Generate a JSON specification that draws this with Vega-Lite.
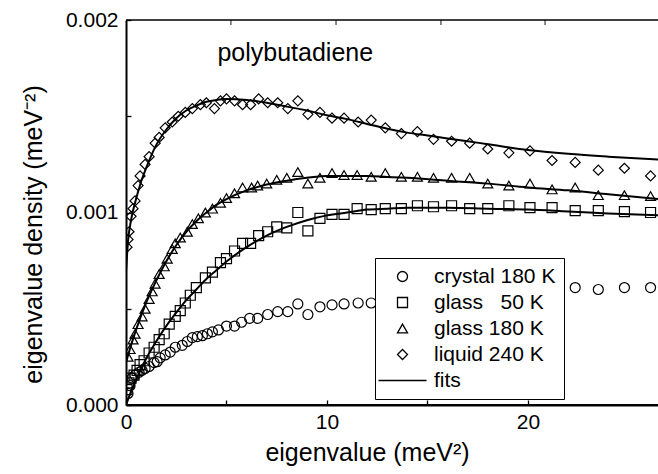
{
  "$schema": "https://vega.github.io/schema/vega-lite/v6.json",
  "width": 534,
  "height": 385,
  "autosize": {"type": "none"},
  "padding": {"left": 126, "top": 20, "right": 0, "bottom": 69},
  "background": "white",
  "config": {
    "view": {"stroke": null},
    "font": "Liberation Sans",
    "axis": {"grid": false, "domain": true, "ticks": true, "domainColor": "black", "tickColor": "black", "labelColor": "black", "titleColor": "black", "labelFont": "Liberation Sans", "titleFont": "Liberation Sans", "titleFontWeight": "normal", "labelFlush": false, "labelOverlap": false}
  },
  "datasets": {
    "fits": [
      {"f": "l", "x": 0, "y": 0.00069}, {"f": "l", "x": 0.1, "y": 0.00085}, {"f": "l", "x": 0.25, "y": 0.00096}, {"f": "l", "x": 0.5, "y": 0.00107}, {"f": "l", "x": 0.75, "y": 0.00116}, {"f": "l", "x": 1, "y": 0.00123}, {"f": "l", "x": 1.5, "y": 0.00135}, {"f": "l", "x": 2, "y": 0.00143}, {"f": "l", "x": 2.5, "y": 0.00149}, {"f": "l", "x": 3, "y": 0.00153}, {"f": "l", "x": 3.5, "y": 0.001555}, {"f": "l", "x": 4, "y": 0.001575}, {"f": "l", "x": 4.5, "y": 0.001585}, {"f": "l", "x": 5, "y": 0.00159}, {"f": "l", "x": 6, "y": 0.001585}, {"f": "l", "x": 7, "y": 0.00157}, {"f": "l", "x": 8, "y": 0.00155}, {"f": "l", "x": 9, "y": 0.00153}, {"f": "l", "x": 10, "y": 0.001505}, {"f": "l", "x": 11, "y": 0.001485}, {"f": "l", "x": 12, "y": 0.00146}, {"f": "l", "x": 13, "y": 0.001435}, {"f": "l", "x": 14, "y": 0.001415}, {"f": "l", "x": 15, "y": 0.0014}, {"f": "l", "x": 16, "y": 0.001385}, {"f": "l", "x": 17, "y": 0.00137}, {"f": "l", "x": 18, "y": 0.001355}, {"f": "l", "x": 20, "y": 0.001325}, {"f": "l", "x": 22, "y": 0.001305}, {"f": "l", "x": 24, "y": 0.00129}, {"f": "l", "x": 26.6, "y": 0.001274},
      {"f": "g180", "x": 0, "y": 0.00022}, {"f": "g180", "x": 0.25, "y": 0.00031}, {"f": "g180", "x": 0.5, "y": 0.00039}, {"f": "g180", "x": 1, "y": 0.00053}, {"f": "g180", "x": 1.5, "y": 0.000645}, {"f": "g180", "x": 2, "y": 0.000745}, {"f": "g180", "x": 2.5, "y": 0.00083}, {"f": "g180", "x": 3, "y": 0.0009}, {"f": "g180", "x": 3.5, "y": 0.000955}, {"f": "g180", "x": 4, "y": 0.001}, {"f": "g180", "x": 4.5, "y": 0.00104}, {"f": "g180", "x": 5, "y": 0.00107}, {"f": "g180", "x": 6, "y": 0.001115}, {"f": "g180", "x": 7, "y": 0.001145}, {"f": "g180", "x": 8, "y": 0.001165}, {"f": "g180", "x": 9, "y": 0.00118}, {"f": "g180", "x": 10, "y": 0.00119}, {"f": "g180", "x": 11, "y": 0.00119}, {"f": "g180", "x": 12, "y": 0.00119}, {"f": "g180", "x": 13, "y": 0.001185}, {"f": "g180", "x": 14, "y": 0.00118}, {"f": "g180", "x": 16, "y": 0.001165}, {"f": "g180", "x": 18, "y": 0.00115}, {"f": "g180", "x": 20, "y": 0.00113}, {"f": "g180", "x": 22, "y": 0.001115}, {"f": "g180", "x": 24, "y": 0.001095}, {"f": "g180", "x": 26.6, "y": 0.001069},
      {"f": "g50", "x": 0, "y": 0.0}, {"f": "g50", "x": 0.25, "y": 0.00007}, {"f": "g50", "x": 0.5, "y": 0.00013}, {"f": "g50", "x": 1, "y": 0.00024}, {"f": "g50", "x": 1.5, "y": 0.00033}, {"f": "g50", "x": 2, "y": 0.00041}, {"f": "g50", "x": 2.5, "y": 0.00048}, {"f": "g50", "x": 3, "y": 0.000545}, {"f": "g50", "x": 3.5, "y": 0.0006}, {"f": "g50", "x": 4, "y": 0.000655}, {"f": "g50", "x": 4.5, "y": 0.0007}, {"f": "g50", "x": 5, "y": 0.000745}, {"f": "g50", "x": 6, "y": 0.00082}, {"f": "g50", "x": 7, "y": 0.00088}, {"f": "g50", "x": 8, "y": 0.000925}, {"f": "g50", "x": 9, "y": 0.00096}, {"f": "g50", "x": 10, "y": 0.000985}, {"f": "g50", "x": 11, "y": 0.001}, {"f": "g50", "x": 12, "y": 0.001015}, {"f": "g50", "x": 13, "y": 0.00102}, {"f": "g50", "x": 14, "y": 0.001025}, {"f": "g50", "x": 16, "y": 0.001025}, {"f": "g50", "x": 18, "y": 0.00102}, {"f": "g50", "x": 20, "y": 0.001015}, {"f": "g50", "x": 22, "y": 0.001005}, {"f": "g50", "x": 24, "y": 0.000995}, {"f": "g50", "x": 26.6, "y": 0.000985}
    ],
    "points": [
      {"s": "l", "x": 0.05, "y": 0.00082}, {"s": "l", "x": 0.1, "y": 0.00086}, {"s": "l", "x": 0.15, "y": 0.0009}, {"s": "l", "x": 0.25, "y": 0.00098}, {"s": "l", "x": 0.35, "y": 0.00102}, {"s": "l", "x": 0.45, "y": 0.00106}, {"s": "l", "x": 0.6, "y": 0.00114}, {"s": "l", "x": 0.7, "y": 0.00119}, {"s": "l", "x": 0.95, "y": 0.00125}, {"s": "l", "x": 1.15, "y": 0.00129}, {"s": "l", "x": 1.45, "y": 0.00136}, {"s": "l", "x": 1.65, "y": 0.00139}, {"s": "l", "x": 1.95, "y": 0.00144}, {"s": "l", "x": 2.3, "y": 0.00147}, {"s": "l", "x": 2.6, "y": 0.0015}, {"s": "l", "x": 2.95, "y": 0.00152}, {"s": "l", "x": 3.3, "y": 0.00154}, {"s": "l", "x": 3.7, "y": 0.00156}, {"s": "l", "x": 4.0, "y": 0.00157}, {"s": "l", "x": 4.4, "y": 0.00154}, {"s": "l", "x": 4.7, "y": 0.00158}, {"s": "l", "x": 5.0, "y": 0.00159}, {"s": "l", "x": 5.4, "y": 0.00158}, {"s": "l", "x": 5.8, "y": 0.00156}, {"s": "l", "x": 6.2, "y": 0.00156}, {"s": "l", "x": 6.6, "y": 0.00159}, {"s": "l", "x": 7.05, "y": 0.00157}, {"s": "l", "x": 7.55, "y": 0.00157}, {"s": "l", "x": 8.05, "y": 0.00154}, {"s": "l", "x": 8.55, "y": 0.00158}, {"s": "l", "x": 9.05, "y": 0.00151}, {"s": "l", "x": 9.65, "y": 0.00152}, {"s": "l", "x": 10.25, "y": 0.00149}, {"s": "l", "x": 10.85, "y": 0.00149}, {"s": "l", "x": 11.55, "y": 0.00147}, {"s": "l", "x": 12.2, "y": 0.00148}, {"s": "l", "x": 12.9, "y": 0.00144}, {"s": "l", "x": 13.7, "y": 0.00141}, {"s": "l", "x": 14.5, "y": 0.00142}, {"s": "l", "x": 15.3, "y": 0.00138}, {"s": "l", "x": 16.2, "y": 0.00137}, {"s": "l", "x": 17.1, "y": 0.00136}, {"s": "l", "x": 18.0, "y": 0.00133}, {"s": "l", "x": 19.05, "y": 0.00131}, {"s": "l", "x": 20.1, "y": 0.00132}, {"s": "l", "x": 21.2, "y": 0.00127}, {"s": "l", "x": 22.35, "y": 0.00126}, {"s": "l", "x": 23.5, "y": 0.00122}, {"s": "l", "x": 24.8, "y": 0.00123}, {"s": "l", "x": 26.1, "y": 0.00119},
      {"s": "g180", "x": 0.1, "y": 0.00025}, {"s": "g180", "x": 0.2, "y": 0.00029}, {"s": "g180", "x": 0.35, "y": 0.00034}, {"s": "g180", "x": 0.45, "y": 0.00037}, {"s": "g180", "x": 0.6, "y": 0.00042}, {"s": "g180", "x": 0.8, "y": 0.00046}, {"s": "g180", "x": 0.95, "y": 0.0005}, {"s": "g180", "x": 1.15, "y": 0.00055}, {"s": "g180", "x": 1.3, "y": 0.00059}, {"s": "g180", "x": 1.45, "y": 0.00063}, {"s": "g180", "x": 1.65, "y": 0.00068}, {"s": "g180", "x": 1.9, "y": 0.00072}, {"s": "g180", "x": 2.05, "y": 0.00076}, {"s": "g180", "x": 2.3, "y": 0.00081}, {"s": "g180", "x": 2.45, "y": 0.00084}, {"s": "g180", "x": 2.7, "y": 0.00087}, {"s": "g180", "x": 3.05, "y": 0.0009}, {"s": "g180", "x": 3.3, "y": 0.00094}, {"s": "g180", "x": 3.6, "y": 0.00097}, {"s": "g180", "x": 3.95, "y": 0.001}, {"s": "g180", "x": 4.3, "y": 0.00102}, {"s": "g180", "x": 4.7, "y": 0.00105}, {"s": "g180", "x": 5.0, "y": 0.001075}, {"s": "g180", "x": 5.4, "y": 0.0011}, {"s": "g180", "x": 5.8, "y": 0.00113}, {"s": "g180", "x": 6.25, "y": 0.00113}, {"s": "g180", "x": 6.55, "y": 0.00114}, {"s": "g180", "x": 7.0, "y": 0.00115}, {"s": "g180", "x": 7.5, "y": 0.00117}, {"s": "g180", "x": 8.0, "y": 0.00118}, {"s": "g180", "x": 8.55, "y": 0.00121}, {"s": "g180", "x": 9.05, "y": 0.00115}, {"s": "g180", "x": 9.65, "y": 0.00118}, {"s": "g180", "x": 10.25, "y": 0.001205}, {"s": "g180", "x": 10.85, "y": 0.001195}, {"s": "g180", "x": 11.5, "y": 0.001195}, {"s": "g180", "x": 12.2, "y": 0.001185}, {"s": "g180", "x": 12.9, "y": 0.001205}, {"s": "g180", "x": 13.7, "y": 0.001185}, {"s": "g180", "x": 14.5, "y": 0.001185}, {"s": "g180", "x": 15.3, "y": 0.00118}, {"s": "g180", "x": 16.2, "y": 0.00118}, {"s": "g180", "x": 17.1, "y": 0.00118}, {"s": "g180", "x": 18.0, "y": 0.00115}, {"s": "g180", "x": 19.05, "y": 0.00114}, {"s": "g180", "x": 20.1, "y": 0.00115}, {"s": "g180", "x": 21.2, "y": 0.00112}, {"s": "g180", "x": 22.35, "y": 0.00113}, {"s": "g180", "x": 23.5, "y": 0.00109}, {"s": "g180", "x": 24.8, "y": 0.00109}, {"s": "g180", "x": 26.1, "y": 0.001085},
      {"s": "g50", "x": 0.05, "y": 0.00008}, {"s": "g50", "x": 0.15, "y": 0.000115}, {"s": "g50", "x": 0.25, "y": 0.00014}, {"s": "g50", "x": 0.4, "y": 0.000155}, {"s": "g50", "x": 0.55, "y": 0.00018}, {"s": "g50", "x": 0.7, "y": 0.00021}, {"s": "g50", "x": 0.9, "y": 0.00023}, {"s": "g50", "x": 1.15, "y": 0.00027}, {"s": "g50", "x": 1.4, "y": 0.0003}, {"s": "g50", "x": 1.65, "y": 0.00034}, {"s": "g50", "x": 1.9, "y": 0.00037}, {"s": "g50", "x": 2.15, "y": 0.00042}, {"s": "g50", "x": 2.45, "y": 0.00046}, {"s": "g50", "x": 2.7, "y": 0.00049}, {"s": "g50", "x": 2.95, "y": 0.00053}, {"s": "g50", "x": 3.2, "y": 0.00057}, {"s": "g50", "x": 3.5, "y": 0.00061}, {"s": "g50", "x": 3.95, "y": 0.00066}, {"s": "g50", "x": 4.3, "y": 0.00069}, {"s": "g50", "x": 4.7, "y": 0.00074}, {"s": "g50", "x": 5.0, "y": 0.00076}, {"s": "g50", "x": 5.4, "y": 0.0008}, {"s": "g50", "x": 5.8, "y": 0.00084}, {"s": "g50", "x": 6.2, "y": 0.00084}, {"s": "g50", "x": 6.6, "y": 0.00088}, {"s": "g50", "x": 7.05, "y": 0.0009}, {"s": "g50", "x": 7.5, "y": 0.000925}, {"s": "g50", "x": 8.0, "y": 0.00092}, {"s": "g50", "x": 8.55, "y": 0.001}, {"s": "g50", "x": 9.05, "y": 0.000905}, {"s": "g50", "x": 9.65, "y": 0.00097}, {"s": "g50", "x": 10.25, "y": 0.00099}, {"s": "g50", "x": 10.85, "y": 0.00099}, {"s": "g50", "x": 11.5, "y": 0.00102}, {"s": "g50", "x": 12.2, "y": 0.001015}, {"s": "g50", "x": 12.9, "y": 0.00102}, {"s": "g50", "x": 13.7, "y": 0.00102}, {"s": "g50", "x": 14.5, "y": 0.001035}, {"s": "g50", "x": 15.3, "y": 0.00103}, {"s": "g50", "x": 16.2, "y": 0.001035}, {"s": "g50", "x": 17.1, "y": 0.00102}, {"s": "g50", "x": 18.0, "y": 0.00102}, {"s": "g50", "x": 19.05, "y": 0.001035}, {"s": "g50", "x": 20.1, "y": 0.001025}, {"s": "g50", "x": 21.2, "y": 0.001025}, {"s": "g50", "x": 22.35, "y": 0.00101}, {"s": "g50", "x": 23.5, "y": 0.00101}, {"s": "g50", "x": 24.8, "y": 0.001005}, {"s": "g50", "x": 26.1, "y": 0.001},
      {"s": "c", "x": 0.1, "y": 0.00006}, {"s": "c", "x": 0.2, "y": 0.0001}, {"s": "c", "x": 0.3, "y": 0.00014}, {"s": "c", "x": 0.45, "y": 0.000155}, {"s": "c", "x": 0.65, "y": 0.00017}, {"s": "c", "x": 0.8, "y": 0.00018}, {"s": "c", "x": 0.95, "y": 0.00019}, {"s": "c", "x": 1.15, "y": 0.0002}, {"s": "c", "x": 1.4, "y": 0.00022}, {"s": "c", "x": 1.55, "y": 0.000225}, {"s": "c", "x": 1.7, "y": 0.000245}, {"s": "c", "x": 1.95, "y": 0.00026}, {"s": "c", "x": 2.2, "y": 0.000275}, {"s": "c", "x": 2.45, "y": 0.0003}, {"s": "c", "x": 2.8, "y": 0.00031}, {"s": "c", "x": 3.05, "y": 0.00033}, {"s": "c", "x": 3.3, "y": 0.00035}, {"s": "c", "x": 3.55, "y": 0.000355}, {"s": "c", "x": 3.8, "y": 0.00036}, {"s": "c", "x": 4.05, "y": 0.00037}, {"s": "c", "x": 4.3, "y": 0.00038}, {"s": "c", "x": 4.6, "y": 0.00039}, {"s": "c", "x": 5.0, "y": 0.00041}, {"s": "c", "x": 5.4, "y": 0.00041}, {"s": "c", "x": 5.75, "y": 0.00043}, {"s": "c", "x": 6.15, "y": 0.00045}, {"s": "c", "x": 6.55, "y": 0.00045}, {"s": "c", "x": 7.05, "y": 0.00047}, {"s": "c", "x": 7.55, "y": 0.000485}, {"s": "c", "x": 8.05, "y": 0.000485}, {"s": "c", "x": 8.55, "y": 0.000525}, {"s": "c", "x": 9.05, "y": 0.00047}, {"s": "c", "x": 9.65, "y": 0.00051}, {"s": "c", "x": 10.25, "y": 0.00052}, {"s": "c", "x": 10.85, "y": 0.000525}, {"s": "c", "x": 11.55, "y": 0.00053}, {"s": "c", "x": 12.2, "y": 0.00053}, {"s": "c", "x": 12.9, "y": 0.00054}, {"s": "c", "x": 13.7, "y": 0.00055}, {"s": "c", "x": 14.5, "y": 0.00056}, {"s": "c", "x": 15.3, "y": 0.000565}, {"s": "c", "x": 16.2, "y": 0.00057}, {"s": "c", "x": 17.1, "y": 0.00058}, {"s": "c", "x": 18.0, "y": 0.000585}, {"s": "c", "x": 19.05, "y": 0.00059}, {"s": "c", "x": 20.1, "y": 0.0006}, {"s": "c", "x": 21.2, "y": 0.0006}, {"s": "c", "x": 22.35, "y": 0.00061}, {"s": "c", "x": 23.5, "y": 0.0006}, {"s": "c", "x": 24.8, "y": 0.00061}, {"s": "c", "x": 26.1, "y": 0.00061}
    ],
    "label": [{"x": 4.55, "y": 0.001787, "t": "polybutadiene"}],
    "topticks": [{"x": 5.22, "y": 0.002}, {"x": 10.45, "y": 0.002}, {"x": 15.67, "y": 0.002}, {"x": 20.85, "y": 0.002}]
  },
  "layer": [
    {
      "data": {"name": "fits"},
      "mark": {"type": "line", "color": "black", "strokeWidth": 2, "interpolate": "monotone", "clip": true},
      "encoding": {
        "x": {"field": "x", "type": "quantitative", "scale": {"domain": [0, 26.57], "nice": false, "zero": false}, "axis": {"orient": "bottom", "values": [0, 5, 10, 15, 20], "labelExpr": "datum.value % 10 == 0 ? datum.label : ''", "format": "d", "domain": true, "ticks": true, "tickSize": -5, "tickWidth": 1.3, "labelPadding": 11, "labelFontSize": 21, "domainWidth": 2, "title": "eigenvalue (meV²)", "titleFontSize": 25, "titleX": 241, "titleY": 55, "titleAlign": "center", "titleBaseline": "alphabetic"}},
        "y": {"field": "y", "type": "quantitative", "scale": {"domain": [0, 0.002], "nice": false}, "axis": {"orient": "left", "values": [0, 0.0005, 0.001, 0.0015, 0.002], "labelExpr": "round(datum.value*2000) % 2 == 0 ? format(datum.value, '.3f') : ''", "domain": true, "ticks": true, "tickSize": -5, "tickWidth": 1.3, "labelPadding": 13, "labelFontSize": 21, "domainWidth": 2, "title": "eigenvalue density (meV⁻²)", "titleFontSize": 25, "titleAngle": -90, "titleX": -85, "titleY": 214, "titleAlign": "center", "titleBaseline": "alphabetic"}},
        "detail": {"field": "f", "type": "nominal"}
      }
    },
    {
      "data": {"values": [{"edge": 0, "from": 0, "to": 26.57}]},
      "mark": {"type": "rule", "color": "black", "strokeWidth": 2},
      "encoding": {
        "x": {"field": "from", "type": "quantitative"},
        "x2": {"field": "to"},
        "y": {"field": "edge", "type": "quantitative"}
      }
    },
    {
      "data": {"values": [{"edge": 0.002, "from": 0, "to": 26.57}]},
      "mark": {"type": "rule", "color": "black", "strokeWidth": 1.5},
      "encoding": {
        "x": {"field": "from", "type": "quantitative"},
        "x2": {"field": "to"},
        "y": {"field": "edge", "type": "quantitative"}
      }
    },
    {
      "data": {"name": "topticks"},
      "mark": {"type": "tick", "orient": "vertical", "color": "black", "thickness": 1.3, "size": 10, "clip": true},
      "encoding": {
        "x": {"field": "x", "type": "quantitative"},
        "y": {"field": "y", "type": "quantitative"}
      }
    },
    {
      "data": {"name": "points"},
      "mark": {"type": "point", "filled": false, "color": "black", "strokeWidth": 1.2, "size": 100, "opacity": 1, "clip": true},
      "encoding": {
        "x": {"field": "x", "type": "quantitative"},
        "y": {"field": "y", "type": "quantitative"},
        "shape": {
          "field": "s", "type": "nominal",
          "scale": {"domain": ["c", "g50", "g180", "l", "f"], "range": ["circle", "square", "triangle-up", "diamond", "M-4.8,0H4.8"]},
          "legend": {
            "title": null, "orient": "none", "legendX": 249, "legendY": 238, "direction": "vertical",
            "padding": 8, "strokeColor": "black", "fillColor": "white",
            "labelFont": "Liberation Sans", "labelFontSize": 21, "labelColor": "black", "labelLimit": 300,
            "labelExpr": "datum.value == 'c' ? 'crystal 180 K' : datum.value == 'g50' ? 'glass\u00a0\u00a0\u00a050 K' : datum.value == 'g180' ? 'glass 180 K' : datum.value == 'l' ? 'liquid 240 K' : 'fits'",
            "symbolStrokeColor": "black", "symbolFillColor": "transparent", "symbolStrokeWidth": 1.3, "symbolSize": 100,
            "symbolOffset": 9, "labelOffset": 21, "rowPadding": 4
          }
        }
      }
    },
    {
      "data": {"name": "label"},
      "mark": {"type": "text", "align": "left", "baseline": "alphabetic", "fontSize": 25, "font": "Liberation Sans", "color": "black"},
      "encoding": {
        "x": {"field": "x", "type": "quantitative"},
        "y": {"field": "y", "type": "quantitative"},
        "text": {"field": "t"}
      }
    }
  ]
}
